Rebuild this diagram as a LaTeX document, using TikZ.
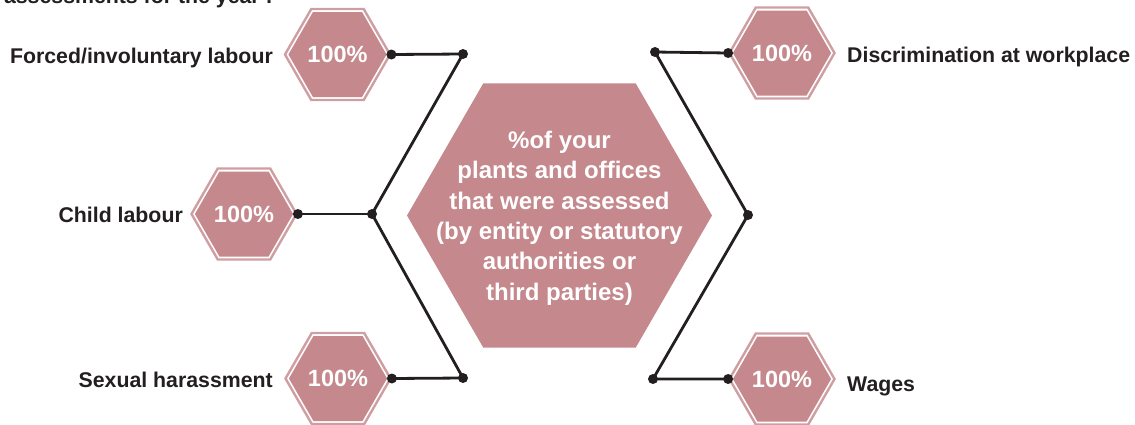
\documentclass[tikz,border=0pt]{standalone}
\usepackage{fontspec}
\setmainfont{Liberation Sans}
\usetikzlibrary{shapes.geometric}
\definecolor{hexpink}{HTML}{C4888D}
\definecolor{hexline}{HTML}{CF9EA2}
\definecolor{ink}{HTML}{231F20}
\begin{document}
\begin{tikzpicture}[x=1pt,y=-1pt,
  outerhex/.style={regular polygon, regular polygon sides=6, minimum size=105pt, inner sep=0pt, draw=hexline, line width=2.4pt},
  innerhex/.style={regular polygon, regular polygon sides=6, minimum size=84pt, inner sep=0pt, fill=hexpink, text=white, font=\bfseries\fontsize{23.5}{28}\selectfont},
  bighex/.style={regular polygon, regular polygon sides=6, minimum size=305pt, inner sep=0pt, fill=hexpink},
  lbl/.style={font=\bfseries\fontsize{21.3}{26}\selectfont, text=ink, inner sep=0pt},
  conn/.style={draw=ink, line width=2.8pt, line join=round},
  dot/.style={circle, fill=ink, inner sep=0pt, minimum size=10pt}]
\clip (0,0) rectangle (1135,424);
\useasboundingbox (0,0) rectangle (1135,424);

% title (cut off at top, as in the reference)
\node[lbl, anchor=base east] (title) at (273,3) {assessments for the year :};

% centre hexagon
\node[bighex] (centre) at (559.5,215.5) {};
\node[align=center, text=white, inner sep=0pt, font=\bfseries\fontsize{24}{30.4}\selectfont] (ctext) at (559.5,218)
  {\%of your\\plants and offices\\that were assessed\\(by entity or statutory\\authorities or\\third parties)};

% small hexagons
\node[outerhex] (h1o) at (337.5,54.5) {};
\node[innerhex] (h1) at (h1o) {100\%};
\node[outerhex] (h2o) at (244,214) {};
\node[innerhex] (h2) at (h2o) {100\%};
\node[outerhex] (h3o) at (338,378.5) {};
\node[innerhex] (h3) at (h3o) {100\%};
\node[outerhex] (h4o) at (782,53) {};
\node[innerhex] (h4) at (h4o) {100\%};
\node[outerhex] (h5o) at (782,379) {};
\node[innerhex] (h5) at (h5o) {100\%};

% labels
\node[lbl, anchor=base east] (l1) at (273,63) {Forced/involuntary labour};
\node[lbl, anchor=base east] (l2) at (183,222) {Child labour};
\node[lbl, anchor=base east] (l3) at (273,387) {Sexual harassment};
\node[lbl, anchor=base west] (l4) at (847,62) {Discrimination at workplace};
\node[lbl, anchor=base west] (l5) at (847,391) {Wages};

% junctions
\coordinate (j1) at (463,54);
\coordinate (jL) at (372,214);
\coordinate (j3) at (463,378);
\coordinate (r1) at (655,52);
\coordinate (jR) at (748,215);
\coordinate (r3) at (653,379);

% connectors
\draw[conn] (h1o.east) -- (j1) -- (jL) -- (j3) -- (h3o.east);
\draw[conn] (h2o.east) -- (jL);
\draw[conn] (h4o.west) -- (r1) -- (jR) -- (r3) -- (h5o.west);

% dots
\foreach \p/\n in {h1o.east/a, j1/b, jL/c, h2o.east/d, j3/e, h3o.east/f, r1/g, jR/h, r3/i, h4o.west/j, h5o.west/k}
  \node[dot] (dot\n) at (\p) {};
\end{tikzpicture}
\end{document}
